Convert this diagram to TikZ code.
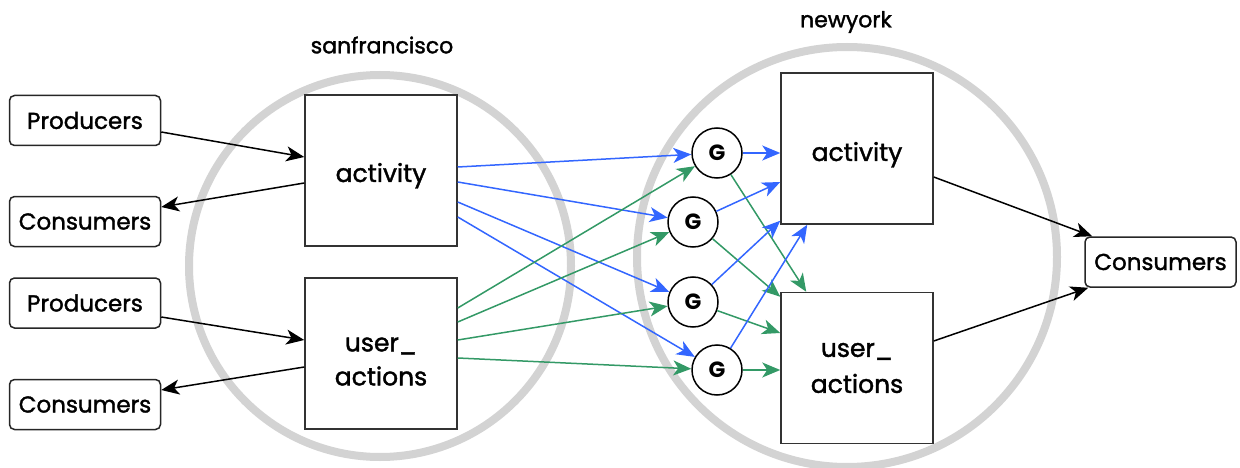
\documentclass[tikz,border=0pt]{standalone}
\usepackage{fontspec}
\setmainfont{Poppins}
\newfontfamily\medfont{Poppins}[FakeBold=1.5]
\usetikzlibrary{arrows.meta}
\definecolor{ringgray}{HTML}{D3D3D3}
\definecolor{bluel}{HTML}{3366FF}
\definecolor{greenl}{HTML}{339966}
\tikzset{
  ring/.style={circle, draw=ringgray, line width=8pt, inner sep=0pt},
  bigbox/.style={rectangle, draw=black!80, fill=white, line width=1.5pt, minimum width=152pt, minimum height=151pt, inner sep=0pt, align=center, font=\medfont\fontsize{25}{34}\selectfont},
  smallbox/.style={rectangle, rounded corners=5pt, draw=black!85, fill=white, line width=1.5pt, minimum width=151pt, minimum height=50pt, inner sep=0pt, font=\medfont\fontsize{23}{26}\selectfont},
  gnode/.style={circle, draw=black, fill=white, line width=1.5pt, minimum size=50pt, inner sep=0pt, font=\fontsize{22}{24}\selectfont\bfseries},
  title/.style={font=\medfont\fontsize{22}{26}\selectfont},
  conn/.style={line width=1.5pt, -{Stealth[length=18pt, width=15pt, inset=5pt]}},
  blk/.style={conn, draw=black},
  blu/.style={conn, draw=bluel, fill=bluel},
  grn/.style={conn, draw=greenl, fill=greenl},
}
\begin{document}
\begin{tikzpicture}[x=1pt, y=-1pt]
\useasboundingbox (0,0) rectangle (1240,468);
% rings
\node[ring, minimum size=382pt] (sfring) at (380,266) {};
\node[ring, minimum size=420pt] (nyring) at (847,257) {};
\node[title] (sflabel) at (382,45) {sanfrancisco};
\node[title] (nylabel) at (846,22) {newyork};
% boxes
\node[bigbox] (sfa) at (381,170.5) {\raisebox{-11.5pt}[0pt][0pt]{activity}};
\node[bigbox] (sfu) at (381,353.5) {\\[-4pt]user\_\\actions};
\node[bigbox] (nya) at (857,148.5) {\raisebox{-12.5pt}[0pt][0pt]{activity}};
\node[bigbox] (nyu) at (857,368) {user\_\\[2pt]actions};
\node[smallbox] (p1) at (85,120.5) {Producers};
\node[smallbox] (c1) at (85,221.5) {Consumers};
\node[smallbox] (p2) at (85,303) {Producers};
\node[smallbox] (c2) at (85,404.5) {Consumers};
\node[smallbox] (cr) at (1160.5,262) {Consumers};
% G nodes
\node[gnode] (g1) at (717,153) {G};
\node[gnode] (g2) at (693,222) {G};
\node[gnode] (g3) at (693,302) {G};
\node[gnode] (g4) at (717,370) {G};
% left black connectors
\draw[blk] ([yshift=-11.5pt]p1.east) -- ([yshift=13.5pt]sfa.west);
\draw[blk] ([yshift=-12.5pt]sfa.west) -- ([yshift=14.5pt]c1.east);
\draw[blk] ([yshift=-14pt]p2.east) -- ([yshift=13.5pt]sfu.west);
\draw[blk] ([yshift=-13.5pt]sfu.west) -- ([yshift=14.5pt]c2.east);
% blue from sf activity
\draw[blu] ([yshift=3.5pt]sfa.east) -- (g1);
\draw[blu] ([yshift=-11.5pt]sfa.east) -- (g2);
\draw[blu] ([yshift=-31.5pt]sfa.east) -- (g3);
\draw[blu] ([yshift=-46.5pt]sfa.east) -- (g4);
% green from sf user_actions
\draw[grn] ([yshift=45.5pt]sfu.east) -- (g1);
\draw[grn] ([yshift=31.5pt]sfu.east) -- (g2);
\draw[grn] ([yshift=13.5pt]sfu.east) -- (g3);
\draw[grn] ([yshift=-4.5pt]sfu.east) -- (g4);
% G to ny
\draw[blu] (g1.east) -- (g1.east -| nya.west);
\draw[grn] (g1) -- ([xshift=26pt]nyu.north west);
\draw[blu] (g2) -- ([yshift=-33.5pt]nya.west);
\draw[grn] (g2) -- ([yshift=-5pt]nyu.north west);
\draw[blu] (g3) -- ([yshift=4pt]nya.south west);
\draw[grn] (g3) -- ([yshift=35pt]nyu.west);
\draw[blu] (g4) -- ([xshift=27pt]nya.south west);
\draw[grn] (g4.east) -- (g4.east -| nyu.west);
% ny to consumers
\draw[blk] ([yshift=-28.5pt]nya.east) -- ([xshift=8pt]cr.north west);
\draw[blk] ([yshift=27pt]nyu.east) -- ([xshift=4pt]cr.south west);
\end{tikzpicture}
\end{document}
